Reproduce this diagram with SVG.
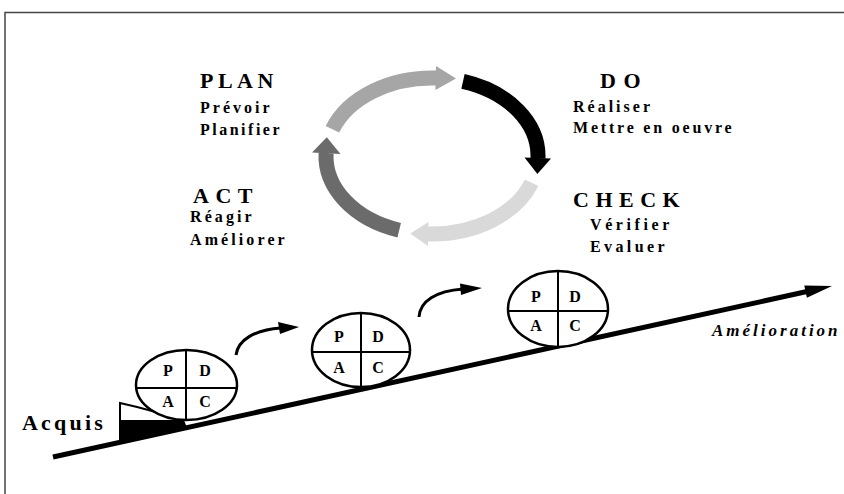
<svg xmlns="http://www.w3.org/2000/svg" width="844" height="494" viewBox="0 0 844 494">
<style>
.t{font-family:"Liberation Serif","Times New Roman",serif;font-weight:bold;fill:#000}
.big{font-size:22px}
.sm{font-size:16px}
.q{font-size:16px;text-anchor:middle}
.ring{fill:none;stroke-width:15}
.ell{fill:#fff;stroke:#000;stroke-width:2.5}
.div{stroke:#000;stroke-width:2}
.cur{fill:none;stroke:#000;stroke-width:3}
</style>
<rect width="844" height="494" fill="#fff"/>
<path d="M5,494 V12.5 H844" fill="none" stroke="#444" stroke-width="1.5"/>

<g id="cycle">
  <g id="arrow-plan">
    <path class="ring" stroke="#a6a6a6" d="M332.4,129.3 A106,78 0 0 1 436.2,78"/>
    <polygon fill="#a6a6a6" points="436,66 456,78.5 435.4,90"/>
  </g>
  <g id="arrow-do">
    <path class="ring" stroke="#000" d="M463,81.4 A106,78 0 0 1 537.96,158.5"/>
    <polygon fill="#000" points="551,158.5 537.4,174 524.5,157.6"/>
  </g>
  <g id="arrow-check">
    <path class="ring" stroke="#d9d9d9" d="M531.6,182.7 A106,78 0 0 1 428,234"/>
    <polygon fill="#d9d9d9" points="428,246 410.3,233.5 428.6,222"/>
  </g>
  <g id="arrow-act">
    <path class="ring" stroke="#6b6b6b" d="M399.2,230.2 A106,78 0 0 1 326.06,153"/>
    <polygon fill="#6b6b6b" points="312,152.6 326.8,137.3 340.5,154"/>
  </g>
</g>

<g id="plan">
  <text class="t big" x="200" y="88" letter-spacing="4.5">PLAN</text>
  <text class="t sm" x="200" y="113" letter-spacing="3">Prévoir</text>
  <text class="t sm" x="200" y="135" letter-spacing="2.5">Planifier</text>
</g>
<g id="do">
  <text class="t big" x="600" y="88" letter-spacing="7.5">DO</text>
  <text class="t sm" x="573" y="112" letter-spacing="3">Réaliser</text>
  <text class="t sm" x="573" y="133" letter-spacing="2.8">Mettre en oeuvre</text>
</g>
<g id="check">
  <text class="t big" x="573" y="207" letter-spacing="6.5">CHECK</text>
  <text class="t sm" x="590" y="230" letter-spacing="3.6">Vérifier</text>
  <text class="t sm" x="590" y="252" letter-spacing="3.4">Evaluer</text>
</g>
<g id="act">
  <text class="t big" x="193" y="203" letter-spacing="6.5">ACT</text>
  <text class="t sm" x="190" y="222" letter-spacing="3.1">Réagir</text>
  <text class="t sm" x="190" y="245" letter-spacing="3.1">Améliorer</text>
</g>

<g id="slope">
  <line x1="53" y1="457" x2="807" y2="291.5" stroke="#000" stroke-width="5"/>
  <polygon fill="#000" points="832,286 806.9,297.7 804.3,285.5"/>
  <text class="t" x="712" y="336" font-size="17" font-style="italic" letter-spacing="3">Amélioration</text>
</g>

<g id="acquis">
  <path d="M120,441 V403 Q152,410 184,421" fill="none" stroke="#000" stroke-width="2"/>
  <polygon fill="#000" points="120,420 184,420 187,428 120,442"/>
  <text class="t" x="22" y="430" font-size="22" letter-spacing="3.2">Acquis</text>
</g>

<g id="pdca1">
  <ellipse class="ell" cx="186.5" cy="385" rx="50.5" ry="35"/>
  <line class="div" x1="186" y1="350" x2="186" y2="420"/>
  <line class="div" x1="136" y1="388" x2="237" y2="388"/>
  <text class="t q" x="168" y="376">P</text>
  <text class="t q" x="205" y="376">D</text>
  <text class="t q" x="168" y="407">A</text>
  <text class="t q" x="205" y="407">C</text>
</g>
<g id="pdca2">
  <ellipse class="ell" cx="361" cy="350" rx="49" ry="37"/>
  <line class="div" x1="361" y1="313" x2="361" y2="387"/>
  <line class="div" x1="312" y1="352" x2="410" y2="352"/>
  <text class="t q" x="339" y="342">P</text>
  <text class="t q" x="378" y="342">D</text>
  <text class="t q" x="339" y="373">A</text>
  <text class="t q" x="378" y="373">C</text>
</g>
<g id="pdca3">
  <ellipse class="ell" cx="558" cy="309" rx="50" ry="38"/>
  <line class="div" x1="558" y1="271" x2="558" y2="347"/>
  <line class="div" x1="508" y1="311" x2="608" y2="311"/>
  <text class="t q" x="536" y="302">P</text>
  <text class="t q" x="575" y="302">D</text>
  <text class="t q" x="536" y="331">A</text>
  <text class="t q" x="575" y="331">C</text>
</g>

<g id="connectors">
  <path class="cur" d="M236,355 C238,340 254,330 281,328"/>
  <polygon fill="#000" points="278,322 299,327 280,334"/>
  <path class="cur" d="M419,317 C420,301 436,291 463,289"/>
  <polygon fill="#000" points="460,283.5 482,288 461,295"/>
</g>
</svg>
